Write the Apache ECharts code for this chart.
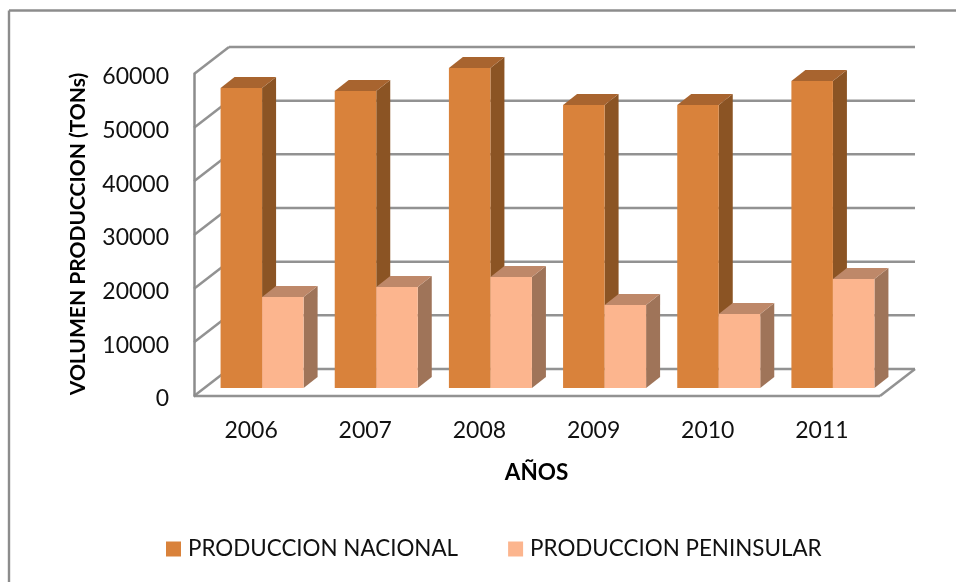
<!DOCTYPE html>
<html><head><meta charset="utf-8">
<style>html,body{margin:0;padding:0;background:#fff}#c{width:956px;height:582px}</style>
<script src="https://cdn.jsdelivr.net/npm/echarts@6/dist/echarts.min.js"></script>
</head><body><div id="c"></div>
<script>
const categories = ['2006','2007','2008','2009','2010','2011'];
const nacional = [55900,55340,59630,52730,52730,57200];
const peninsular = [16960,18820,20680,15470,13790,20310];
const yTicks = [0,10000,20000,30000,40000,50000,60000];
const FONT = 'Lato';
const wall = {dx:35, dy:-27};
const barD = {dx:14, dy:-11};
const barInset = {dx:11, dy:-8};
const gridCol = '#8c8c8c';
const textCol = '#111';

function gridItem(params, api){
  const v = api.value(1);
  const p = api.coord([0, v]);
  const band = api.size([1,0])[0];
  const x0 = p[0]-band/2, x1 = x0+band*categories.length+1, y = p[1];
  const line = (a,b,c,d)=>({type:'line',shape:{x1:a,y1:b,x2:c,y2:d},style:{stroke:gridCol,lineWidth:2.5,opacity:0.95}});
  const kids = [
    line(x0,y,x0+wall.dx,y+wall.dy),
    line(x0+wall.dx,y+wall.dy,x1+wall.dx,y+wall.dy)
  ];
  if(v===0){
    kids.push(line(x1,y,x1+wall.dx,y+wall.dy));
    kids.push(line(x0,y,x1,y));
  }
  return {type:'group',children:kids};
}
function barItem(slot,front,top,side){
  return function(params, api){
    const i = api.value(0);
    const t = api.coord([i, api.value(1)]);
    const b = api.coord([i, 0]);
    const band = api.size([1,0])[0];
    const w = band*0.3636;
    const xl = t[0]-w+barInset.dx+slot*w;
    const xr = xl+w;
    const yb = b[1]+barInset.dy, yt = t[1]+barInset.dy;
    const d = barD;
    return {type:'group',children:[
      {type:'polygon',shape:{points:[[xr,yt],[xr+d.dx,yt+d.dy],[xr+d.dx,yb+d.dy],[xr,yb]]},style:{fill:side}},
      {type:'polygon',shape:{points:[[xl,yt],[xl+d.dx,yt+d.dy],[xr+d.dx,yt+d.dy],[xr,yt]]},style:{fill:top}},
      {type:'rect',shape:{x:xl,y:yt,width:w,height:yb-yt},style:{fill:front}}
    ]};
  };
}
const chart = echarts.init(document.getElementById('c'),null,{renderer:'canvas'});
chart.setOption({
  animation:false,
  backgroundColor:'#fff',
  graphic:[
    {type:'line',shape:{x1:9,y1:10.5,x2:956,y2:10.5},style:{stroke:'#8c8c8c',lineWidth:2.4},silent:true,z:-1},
    {type:'line',shape:{x1:9,y1:10.5,x2:9,y2:582},style:{stroke:'#8c8c8c',lineWidth:2.4},silent:true,z:-1}
  ],
  grid:{left:194,right:77,top:74,bottom:186},
  legend:{
    left:161,top:533,itemWidth:15,itemHeight:15,itemGap:50,icon:'rect',
    data:['PRODUCCION NACIONAL','PRODUCCION PENINSULAR'],
    textStyle:{fontFamily:FONT,fontSize:22.4,color:textCol,padding:[0,0,0,2]}
  },
  xAxis:{
    type:'category',data:categories,
    name:'AÑOS',nameLocation:'middle',nameGap:65,
    nameTextStyle:{fontFamily:FONT,fontSize:22.5,fontWeight:'bold',color:'#000'},
    axisLine:{show:false},axisTick:{show:false},
    axisLabel:{fontFamily:FONT,fontSize:23,color:textCol,margin:23},
    splitLine:{show:false}
  },
  yAxis:{
    type:'value',min:0,max:60000,interval:10000,
    name:'VOLUMEN PRODUCCION (TONs)',nameLocation:'middle',nameGap:105,nameRotate:90,
    nameTextStyle:{fontFamily:FONT,fontSize:21,fontWeight:'bold',color:'#000',padding:[0,0,0,2]},
    axisLine:{show:true,lineStyle:{color:gridCol,width:2.5}},axisTick:{show:false},
    axisLabel:{fontFamily:FONT,fontSize:23,color:textCol,margin:25,formatter:v=>String(v),verticalAlign:'top',lineHeight:6},
    splitLine:{show:false}
  },
  series:[
    {type:'custom',name:'grid',silent:true,clip:false,z:1,renderItem:gridItem,
     encode:{x:0,y:1},data:yTicks.map(v=>[0,v])},
    {type:'custom',name:'PRODUCCION NACIONAL',clip:false,z:2,
     itemStyle:{color:'#d9823b'},
     renderItem:barItem(0,'#d9823b','#a8642f','#8b5424'),
     encode:{x:0,y:1},data:nacional.map((v,i)=>[i,v])},
    {type:'custom',name:'PRODUCCION PENINSULAR',clip:false,z:3,
     itemStyle:{color:'#fcb58e'},
     renderItem:barItem(1,'#fcb58e','#be8869','#9f7459'),
     encode:{x:0,y:1},data:peninsular.map((v,i)=>[i,v])}
  ]
});
</script></body></html>
